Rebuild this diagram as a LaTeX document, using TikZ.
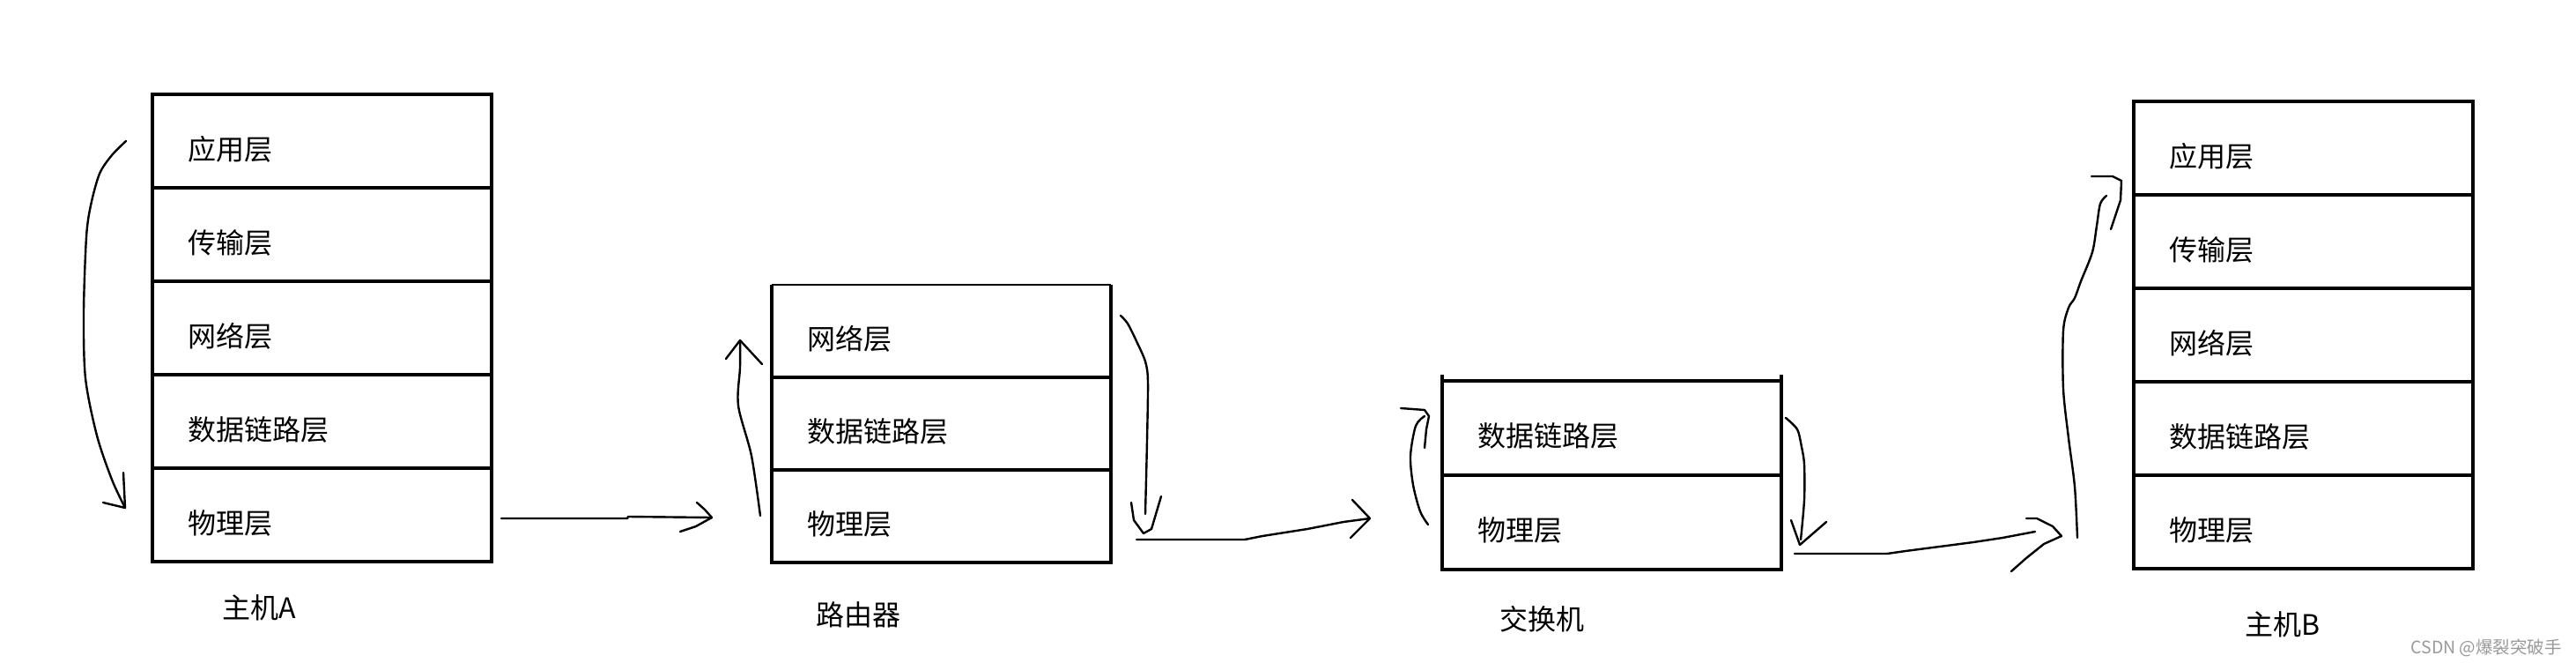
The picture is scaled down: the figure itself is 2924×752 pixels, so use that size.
\documentclass[tikz,border=0pt]{standalone}
\usepackage{fontspec}
\setmainfont{Noto Sans CJK SC}
\begin{document}
\begin{tikzpicture}[x=1pt, y=-1pt,
  box/.style={line width=3.6pt},
  layer/.style={draw, line width=3.6pt, rectangle, anchor=north west, outer sep=0pt,
    minimum width=385pt, minimum height=#1, text width=305pt, inner xsep=40pt,
    inner ysep=0pt, align=left, text height=42pt, text depth=0pt,
    font=\fontsize{32pt}{32pt}\selectfont},
  layer/.default=106pt,
  caption/.style={anchor=base west, inner sep=0pt, font=\fontsize{32pt}{32pt}\selectfont},
  hand/.style={line width=2.4pt, line cap=round, line join=round},
]
\useasboundingbox (0,0) rectangle (2924,752);

% ---------- Host A ----------
\node[layer] (A1) at (173,107) {应用层};
\node[layer] (A2) at (A1.south west) {传输层};
\node[layer] (A3) at (A2.south west) {网络层};
\node[layer] (A4) at (A3.south west) {数据链路层};
\node[layer] (A5) at (A4.south west) {物理层};
\node[caption] (capA) at (252,701) {主机A};

% ---------- Router ----------
\node[layer=105pt, draw=none] (R1) at (876,323) {网络层};
\node[layer=105pt] (R2) at (R1.south west) {数据链路层};
\node[layer=105pt] (R3) at (R2.south west) {物理层};
\draw[box] (R1.north west) -- (R1.south west);
\draw[box] (R1.north east) -- (R1.south east);
\draw[line width=1.3pt] (R1.north west) -- (R1.north east);
\node[caption] (capR) at (926,709) {路由器};

% ---------- Switch ----------
\node[layer=107pt] (S1) at (1637,432) {数据链路层};
\node[layer=107pt] (S2) at (S1.south west) {物理层};
\draw[box] (S1.north west) -- ++(0,-7);
\draw[box] (S1.north east) -- ++(0,-7);
\node[caption] (capS) at (1702,714) {交换机};

% ---------- Host B ----------
\node[layer] (B1) at (2422,115) {应用层};
\node[layer] (B2) at (B1.south west) {传输层};
\node[layer] (B3) at (B2.south west) {网络层};
\node[layer] (B4) at (B3.south west) {数据链路层};
\node[layer] (B5) at (B4.south west) {物理层};
\node[caption] (capB) at (2548,720) {主机B};

% ---------- watermark ----------
\node[anchor=base east, inner sep=0pt, text=black!40,
  font=\fontsize{19.5pt}{19.5pt}\selectfont] (wm) at (2908,741) {CSDN @爆裂突破手};

% ---------- hand-drawn arrows ----------
% host A: down
\coordinate (aAs) at (143,160);
\coordinate (aAe) at (142,576);
\draw[hand] plot[smooth, tension=0.5] coordinates {(aAs) (127,176) (113,197) (103,233) (98,269) (95,354) (97,429) (110,494) (127,544) (aAe)};
\draw[hand] (117,570) -- (aAe) -- (140,536);

% host A -> router
\coordinate (arS) at (569,588);
\coordinate (arE) at (808,587);
\draw[hand] (arS) -- (712,588) -- (713,586) -- (arE);
\draw[hand] (791,570) -- (800,578) -- (arE) -- (790,597) -- (772,603);

% router: up
\coordinate (ruS) at (863,585);
\coordinate (ruE) at (840,386);
\draw[hand] plot[smooth, tension=0.5] coordinates {(ruS) (853,517) (838,460) (840,417) (ruE)};
\draw[hand] (824,407) -- (ruE) -- (865,413);

% router: down
\coordinate (rdS) at (1272,358);
\coordinate (rdE) at (1298,605);
\draw[hand] plot[smooth, tension=0.5] coordinates {(rdS) (1280,367) (1290,387) (1300,410) (1303,433) (1302,500) (1300,583)};
\draw[hand] (1284,570) -- (1287,590) -- (rdE) -- (1307,600) -- (1318,563);

% router -> switch
\coordinate (rsS) at (1290,612);
\coordinate (rsE) at (1555,588);
\draw[hand] (rsS) -- (1413,612) -- (1433,608) -- (1484,600) -- (1525,592) -- (rsE);
\draw[hand] (1535,567) -- (rsE) -- (1533,610);

% switch: up
\coordinate (suS) at (1621,595);
\coordinate (suE) at (1622,472);
\draw[hand] plot[smooth, tension=0.5] coordinates {(suS) (1612,580) (1604,550) (1601,517) (1607,483) (1617,472)};
\draw[hand] (1590,463) -- (1617,465) -- (suE) -- (1619,487) -- (1617,508);

% switch: down
\coordinate (sdS) at (2027,474);
\coordinate (sdE) at (2043,618);
\draw[hand] plot[smooth, tension=0.5] coordinates {(sdS) (2040,487) (2045,507) (2048,527) (2048,567) (2044,612)};
\draw[hand] (2033,590) -- (sdE) -- (2073,592);

% switch -> host B
\coordinate (sbS) at (2037,628);
\coordinate (sbE) at (2340,608);
\draw[hand] (sbS) -- (2142,628) -- (2163,625) -- (2217,618) -- (2240,615) -- (2273,610) -- (2310,603);
\draw[hand] (2300,588) -- (2312,588) -- (2330,597) -- (sbE) -- (2320,617) -- (2300,633) -- (2283,648);

% host B: up
\coordinate (buS) at (2358,610);
\coordinate (buE) at (2391,222);
\draw[hand] plot[smooth, tension=0.5] coordinates {(buS) (2355,552) (2348,497) (2342,441) (2342,375) (2348,349) (2355,338) (2362,319) (2375,286) (2380,256) (2384,231) (buE)};
\draw[hand] (2374,200) -- (2398,200) -- (2408,205) -- (2407,227) -- (2401,245) -- (2396,260);
\end{tikzpicture}
\end{document}
